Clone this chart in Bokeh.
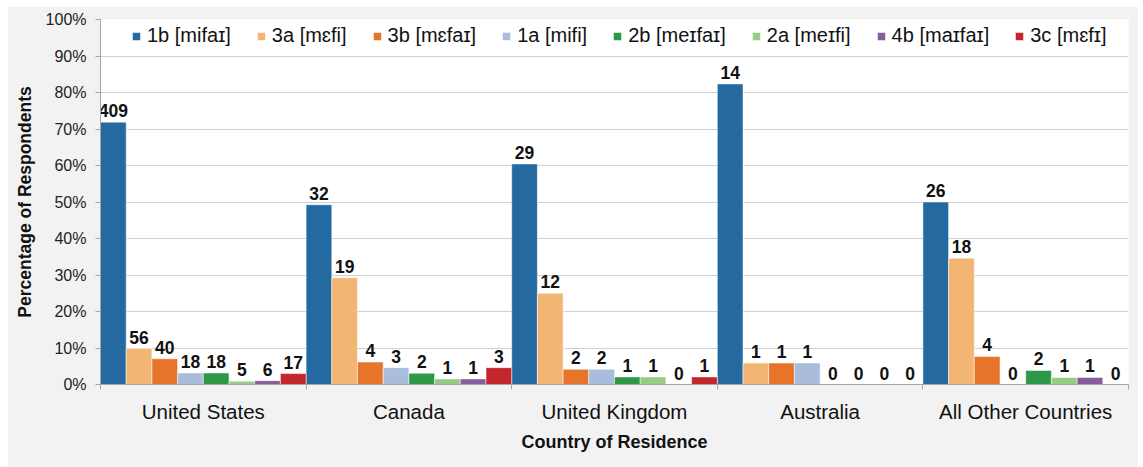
from bokeh.plotting import figure
from bokeh.models import ColumnDataSource, Range1d, FixedTicker, NumeralTickFormatter, Legend, LegendItem
from bokeh.core.properties import value
from bokeh.embed import file_html
from bokeh.resources import INLINE

countries = ["United States", "Canada", "United Kingdom", "Australia", "All Other Countries"]
variants = ["1b [mifaɪ]", "3a [mɛfi]", "3b [mɛfaɪ]", "1a [mifi]",
            "2b [meɪfaɪ]", "2a [meɪfi]", "4b [maɪfaɪ]", "3c [mɛfɪ]"]
colors = ["#246aa0", "#f3b574", "#e6752b", "#a9bcdb",
          "#2f9847", "#98cb83", "#885d9b", "#c3272c"]

# respondent counts per variant (same order as `variants`) for each country
us_counts = [409, 56, 40, 18, 18, 5, 6, 17]
canada_counts = [32, 19, 4, 3, 2, 1, 1, 3]
uk_counts = [29, 12, 2, 2, 1, 1, 0, 1]
australia_counts = [14, 1, 1, 1, 0, 0, 0, 0]
other_counts = [26, 18, 4, 0, 2, 1, 1, 0]

y_ticks = [0, 0.1, 0.2, 0.3, 0.4, 0.5, 0.6, 0.7, 0.8, 0.9, 1.0]

counts_by_country = [us_counts, canada_counts, uk_counts, australia_counts, other_counts]
n_var = len(variants)

FONT = "Liberation Sans"

p = figure(width=1131, height=461, output_backend="svg", toolbar_location=None,
           x_range=Range1d(0, len(countries)), y_range=Range1d(0, 1),
           min_border_left=93, min_border_right=10, min_border_top=13, min_border_bottom=83,
           background_fill_color="white", border_fill_color="#f2f2f2",
           outline_line_color=None)
p.margin = (6, 5, 0, 7)

renderers = []
for j, name in enumerate(variants):
    xs, tops, labels = [], [], []
    for i, counts in enumerate(counts_by_country):
        total = sum(counts)
        xs.append(i + (j + 0.5) / n_var)
        tops.append(counts[j] / total)
        labels.append(str(counts[j]))
    src = ColumnDataSource(dict(x=xs, top=tops, label=labels))
    r = p.vbar(x="x", top="top", width=1.0 / n_var, source=src,
               fill_color=colors[j], line_color="white", line_alpha=0.5, line_width=1)
    renderers.append(r)
    p.text(x="x", y="top", text="label", source=src, text_align="center",
           text_baseline="bottom", y_offset=-5, text_font=value(FONT),
           text_font_style="bold", text_font_size="17.5px", text_color="#111111")

# y axis
p.yaxis.ticker = FixedTicker(ticks=y_ticks)
p.yaxis.formatter = NumeralTickFormatter(format="0%")
p.yaxis.axis_label = "Percentage of Respondents"
p.yaxis.axis_label_text_font = FONT
p.yaxis.axis_label_text_font_style = "bold"
p.yaxis.axis_label_text_font_size = "17.5px"
p.yaxis.axis_label_text_color = "#111111"
p.yaxis.axis_label_standoff = 8
p.yaxis.major_label_text_font = FONT
p.yaxis.major_label_text_font_size = "16px"
p.yaxis.major_label_text_color = "#222222"
p.yaxis.major_label_standoff = 9
p.yaxis.major_tick_out = 5
p.yaxis.major_tick_in = 0
p.yaxis.minor_tick_out = 0
p.yaxis.minor_tick_in = 0
p.yaxis.axis_line_color = "#a6a6a6"
p.yaxis.major_tick_line_color = "#a6a6a6"

# x axis: labels at group centres, ticks at group boundaries
centers = [i + 0.5 for i in range(len(countries))]
bounds = [i for i in range(len(countries) + 1)]
p.xaxis.ticker = FixedTicker(ticks=centers, minor_ticks=bounds)
p.xaxis.major_label_overrides = {c: name for c, name in zip(centers, countries)}
p.xaxis.major_tick_out = 0
p.xaxis.major_tick_in = 0
p.xaxis.minor_tick_out = 5
p.xaxis.minor_tick_in = 0
p.xaxis.minor_tick_line_color = "#a6a6a6"
p.xaxis.axis_line_color = "#a6a6a6"
p.xaxis.major_label_text_font = FONT
p.xaxis.major_label_text_font_size = "20.5px"
p.xaxis.major_label_text_color = "#111111"
p.xaxis.major_label_standoff = 10
p.xaxis.axis_label = "Country of Residence"
p.xaxis.axis_label_text_font = FONT
p.xaxis.axis_label_text_font_style = "bold"
p.xaxis.axis_label_text_font_size = "18px"
p.xaxis.axis_label_text_color = "#111111"
p.xaxis.axis_label_standoff = 6

p.xgrid.grid_line_color = None
p.ygrid.grid_line_color = "#a0a0a0"
p.ygrid.grid_line_dash = "1 1"
p.ygrid.grid_line_width = 1

legend = Legend(items=[LegendItem(label=v, renderers=[r]) for v, r in zip(variants, renderers)],
                orientation="horizontal", location=(31, 337),
                glyph_width=10, glyph_height=10, label_standoff=6, spacing=25,
                padding=0, margin=0, label_height=20,
                label_text_font=FONT, label_text_font_size="20px", label_text_color="#111111",
                background_fill_alpha=0, border_line_color=None)
p.add_layout(legend, "center")

open("out.html", "w").write(file_html(p, INLINE))
